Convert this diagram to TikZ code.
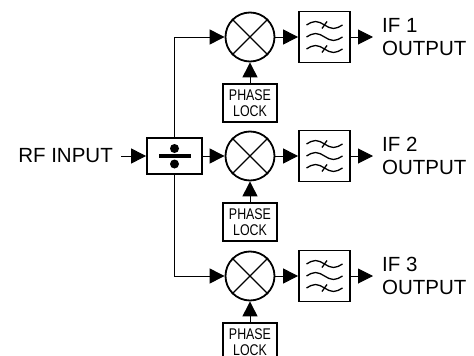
\documentclass[tikz,border=0pt]{standalone}
\usepackage{fontspec}
\setmainfont{Liberation Sans}
\newfontfamily\narrowfont[FakeStretch=0.8]{Liberation Sans}
\usetikzlibrary{arrows.meta}

\begin{document}
\begin{tikzpicture}[x=1pt,y=-1pt,
  arr/.style={line width=1pt,-{Triangle[length=15pt,width=15pt]}},
  blk/.style={draw,line width=1.8pt,inner sep=0pt},
  mixer/.style={circle,draw,line width=1.8pt,minimum size=49pt,inner sep=0pt},
  xline/.style={line width=1.4pt},
  wave/.style={line width=1.3pt},
  txt/.style={font=\fontsize{20.5}{23}\selectfont,inner sep=0pt,align=left}]
\useasboundingbox (0,0) rectangle (474,356);
% splitter
\node[blk,minimum width=55pt,minimum height=36pt](split) at (174.5,156){};
\fill (159,154) rectangle (191,158);
\fill (174.5,148.5) circle (4.5) (174.5,164) circle (4.5);
\node[txt,anchor=east,inner xsep=8pt](rf) at (121,156){RF INPUT};
\draw[arr] (rf) -- (split);
% channels
\foreach \y[count=\i] in {37,156,276}{
  \node[mixer](mix\i) at (250,\y){};
  \draw[xline] (mix\i.north west) -- (mix\i.south east)
               (mix\i.north east) -- (mix\i.south west);
  \node[blk,minimum size=51pt](filt\i) at (324.5,\y){};
  \foreach \d in {-12,0,12}
    \draw[wave] (306.5,\y+\d) sin +(9,-3.5) cos +(9,3.5) sin +(9,3.5) cos +(9,-3.5);
  \draw[wave] (322,\y-8.5) -- (327,\y-15.5) (322,\y+15.5) -- (327,\y+8.5);
  \node[blk,minimum width=54pt,minimum height=38pt,align=center,
        font=\narrowfont\fontsize{15.5}{16}\selectfont](lock\i) at (250,\y+66){PHASE\\LOCK};
  \node[txt,anchor=west,inner xsep=9pt](out\i) at (373,\y){IF \i\\OUTPUT};
  \draw[arr] (lock\i) -- (mix\i);
  \draw[arr] (mix\i) -- (filt\i);
  \draw[arr] (filt\i) -- (out\i);
}
\draw[arr] (split) -- (mix2);
\draw[arr] (split.north) |- (mix1);
\draw[arr] (split.south) |- (mix3);
\end{tikzpicture}
\end{document}
